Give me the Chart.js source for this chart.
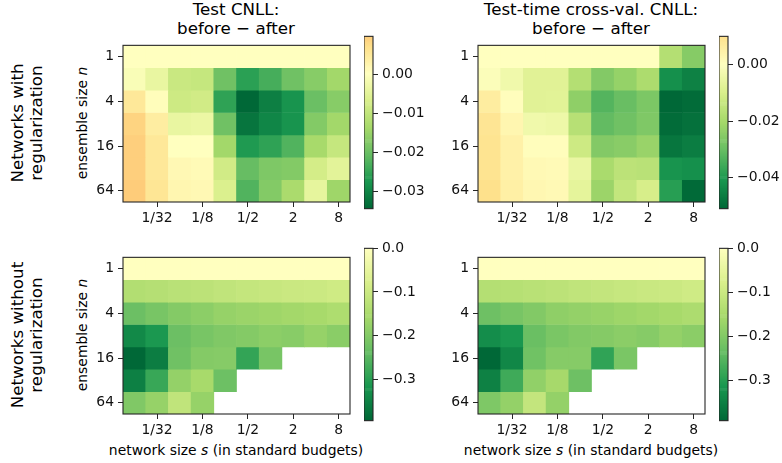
<!DOCTYPE html>
<html>
<head>
<meta charset="utf-8">
<script src="https://cdn.jsdelivr.net/npm/chart.js@4.4.1/dist/chart.umd.min.js"></script>
<style>
  html, body { margin: 0; padding: 0; background: #fff; }
  #fig { position: relative; width: 782px; height: 463px; overflow: hidden;
         font-family: 'DejaVu Sans', sans-serif; color: #000; }
  #fig canvas { position: absolute; }
  .title { position: absolute; font-size: 16.7px; line-height: 18.5px; text-align: center;
           white-space: nowrap; transform: translateX(-50%); }
  .rowlab { position: absolute; font-size: 16.7px; line-height: 19px; text-align: center;
            white-space: nowrap; transform: translate(-50%, -50%) rotate(-90deg); }
  .ylab { position: absolute; font-size: 13.9px; line-height: 16px; white-space: nowrap;
          transform: translate(-50%, -50%) rotate(-90deg); }
  .xlab { position: absolute; font-size: 13.9px; line-height: 16px; white-space: nowrap;
          transform: translateX(-50%); }
</style>
</head>
<body>
<div id="fig">
  <div class="title" style="left:236px;top:0px;">Test CNLL:<br>before &minus; after</div>
  <div class="title" style="left:591px;top:0px;">Test-time cross-val. CNLL:<br>before &minus; after</div>

  <div class="rowlab" style="left:27px;top:123px;">Networks with<br>regularization</div>
  <div class="rowlab" style="left:27px;top:334.5px;">Networks without<br>regularization</div>

  <div class="ylab" style="left:82px;top:123px;">ensemble size <i>n</i></div>
  <div class="ylab" style="left:82px;top:334.5px;">ensemble size <i>n</i></div>

  <div class="xlab" style="left:236px;top:442px;">network size <i>s</i> (in standard budgets)</div>
  <div class="xlab" style="left:591px;top:442px;">network size <i>s</i> (in standard budgets)</div>

  <canvas id="heatA" width="272" height="199" style="left:83px;top:33px;width:272px;height:199px;"></canvas>
  <canvas id="heatB" width="272" height="199" style="left:438px;top:33px;width:272px;height:199px;"></canvas>
  <canvas id="heatC" width="272" height="199" style="left:83px;top:245px;width:272px;height:199px;"></canvas>
  <canvas id="heatD" width="272" height="199" style="left:438px;top:245px;width:272px;height:199px;"></canvas>

  <canvas id="cbA" width="60" height="197" style="left:364px;top:24px;width:60px;height:197px;"></canvas>
  <canvas id="cbB" width="60" height="197" style="left:719px;top:24px;width:60px;height:197px;"></canvas>
  <canvas id="cbC" width="60" height="197" style="left:364px;top:236px;width:60px;height:197px;"></canvas>
  <canvas id="cbD" width="60" height="197" style="left:719px;top:236px;width:60px;height:197px;"></canvas>
</div>

<script>
// Axis categories
const networkSizes = ['1/64', '1/32', '1/16', '1/8', '1/4', '1/2', '1', '2', '4', '8'];
const ensembleSizes = ['1', '2', '4', '8', '16', '32', '64'];
const labelledNetworkSizes = ['1/32', '1/8', '1/2', '2', '8'];
const labelledEnsembleSizes = ['1', '4', '16', '64'];

// Colour-bar tick values
const cbarTicksTestReg = [0, -0.01, -0.02, -0.03];
const cbarTicksCvReg = [0, -0.02, -0.04];
const cbarTicksNoReg = [0, -0.1, -0.2, -0.3];

// CNLL differences (before - after), rows = ensemble size, cols = network size
const testCnllReg = [
  [0, 0, 0, 0, 0, 0, 0, 0, 0, 0],
  [-0.001, -0.004, -0.009, -0.0095, -0.0195, -0.026, -0.0235, -0.0195, -0.017, -0.014],
  [0.005, 0.0005, -0.0085, -0.008, -0.0255, -0.0343, -0.031, -0.028, -0.020, -0.017],
  [0.0085, 0.004, -0.004, -0.0035, -0.0195, -0.0325, -0.030, -0.028, -0.0175, -0.014],
  [0.0092, 0.005, 0.0, 0.0, -0.014, -0.027, -0.0255, -0.0225, -0.0135, -0.0095],
  [0.0092, 0.005, 0.0015, 0.001, -0.008, -0.0205, -0.018, -0.0175, -0.0075, -0.005],
  [0.0096, 0.0055, 0.002, 0.0015, -0.0065, -0.0225, -0.0175, -0.013, -0.0045, -0.0145]
];

const cvCnllReg = [
  [0, 0, 0, 0, 0, 0, 0, 0, -0.0175, -0.0255],
  [-0.001, -0.004, -0.008, -0.008, -0.0175, -0.026, -0.023, -0.019, -0.0425, -0.0455],
  [0.006, 0.0005, -0.008, -0.0078, -0.024, -0.033, -0.030, -0.027, -0.0509, -0.050],
  [0.0085, 0.003, -0.004, -0.0045, -0.017, -0.031, -0.029, -0.0265, -0.050, -0.049],
  [0.009, 0.0045, 0.0005, 0.0005, -0.0125, -0.026, -0.025, -0.0225, -0.048, -0.0465],
  [0.009, 0.0045, 0.002, 0.0015, -0.0055, -0.0195, -0.016, -0.0165, -0.0415, -0.0425],
  [0.0099, 0.005, 0.0025, 0.002, -0.007, -0.022, -0.0145, -0.0105, -0.039, -0.0505]
];

const testCnllNoReg = [
  [0, 0, 0, 0, 0, 0, 0, 0, 0, 0],
  [-0.14, -0.135, -0.128, -0.124, -0.118, -0.112, -0.107, -0.103, -0.100, -0.095],
  [-0.23, -0.215, -0.20, -0.19, -0.178, -0.172, -0.167, -0.16, -0.155, -0.145],
  [-0.34, -0.315, -0.23, -0.215, -0.205, -0.20, -0.19, -0.195, -0.178, -0.192],
  [-0.395, -0.36, -0.225, -0.20, -0.197, -0.29, -0.215, null, null, null],
  [-0.355, -0.285, -0.18, -0.155, -0.228, null, null, null, null, null],
  [-0.205, -0.178, -0.118, -0.178, null, null, null, null, null, null]
];

const cvCnllNoReg = [
  [0, 0, 0, 0, 0, 0, 0, 0, 0, 0],
  [-0.135, -0.132, -0.128, -0.123, -0.117, -0.112, -0.107, -0.103, -0.099, -0.093],
  [-0.225, -0.212, -0.20, -0.185, -0.178, -0.174, -0.166, -0.16, -0.153, -0.145],
  [-0.33, -0.315, -0.23, -0.21, -0.20, -0.197, -0.19, -0.195, -0.178, -0.19],
  [-0.391, -0.34, -0.222, -0.195, -0.195, -0.29, -0.21, null, null, null],
  [-0.35, -0.275, -0.182, -0.155, -0.225, null, null, null, null, null],
  [-0.205, -0.178, -0.112, -0.178, null, null, null, null, null, null]
];

// RdYlGn colour stops (red -> yellow -> green)
const RDYLGN = ['#a50026', '#d73027', '#f46d43', '#fdae61', '#fee08b', '#ffffbf',
                '#d9ef8b', '#a6d96a', '#66bd63', '#1a9850', '#006837'];
const rdylgnRgb = RDYLGN.map(h => [1, 3, 5].map(i => parseInt(h.substr(i, 2), 16)));

function rdylgn(p) {
  p = Math.min(1, Math.max(0, p));
  const x = p * (rdylgnRgb.length - 1);
  const i = Math.min(Math.floor(x), rdylgnRgb.length - 2);
  const f = x - i;
  const a = rdylgnRgb[i], b = rdylgnRgb[i + 1];
  const c = a.map((v, k) => Math.round(v + (b[k] - v) * f));
  return `rgb(${c[0]},${c[1]},${c[2]})`;
}

// Reversed map, symmetric about zero: negative -> green, positive -> orange
function colourFor(v, vabs) {
  return rdylgn(0.5 - 0.5 * v / vabs);
}

function rangeOf(values) {
  const flat = values.flat().filter(v => v !== null);
  const lo = Math.min(...flat), hi = Math.max(...flat);
  return { lo, hi, vabs: Math.max(Math.abs(lo), Math.abs(hi)) };
}

Chart.defaults.font.family = "'DejaVu Sans', sans-serif";
Chart.defaults.font.size = 13.9;
Chart.defaults.color = '#111';

const SPINE = '#262626';

const framePlugin = {
  id: 'frame',
  afterDatasetsDraw(chart) {
    const a = chart.chartArea, ctx = chart.ctx;
    ctx.save();
    ctx.strokeStyle = SPINE;
    ctx.lineWidth = 1.1;
    ctx.strokeRect(a.left, a.top, a.right - a.left, a.bottom - a.top);
    ctx.restore();
  }
};

function makeHeatmap(id, values) {
  const { vabs } = rangeOf(values);
  const datasets = values.map((row, r) => ({
    data: row.map(v => (v === null ? null : [r - 0.5, r + 0.5])),
    backgroundColor: row.map(v => (v === null ? 'rgba(0,0,0,0)' : colourFor(v, vabs))),
    borderWidth: 0,
    barPercentage: 1,
    categoryPercentage: 1,
    grouped: false
  }));
  new Chart(document.getElementById(id), {
    type: 'bar',
    data: { labels: networkSizes, datasets },
    options: {
      responsive: false,
      animation: false,
      devicePixelRatio: 1,
      layout: { padding: { top: 10, right: 5, left: 0, bottom: 0 } },
      plugins: { legend: { display: false }, tooltip: { enabled: false } },
      scales: {
        x: {
          type: 'category',
          offset: true,
          border: { display: false },
          grid: {
            offset: false,
            drawOnChartArea: false,
            tickLength: 5,
            tickWidth: 1,
            tickColor: c => labelledNetworkSizes.includes(networkSizes[c.index]) ? SPINE : 'rgba(0,0,0,0)'
          },
          ticks: {
            autoSkip: false,
            maxRotation: 0,
            padding: 3,
            callback: (v, i) => labelledNetworkSizes.includes(networkSizes[i]) ? networkSizes[i] : ''
          },
          afterFit: s => { s.height = 30; }
        },
        y: {
          type: 'linear',
          min: -0.5,
          max: ensembleSizes.length - 0.5,
          reverse: true,
          border: { display: false },
          grid: { drawOnChartArea: false, tickLength: 5, tickWidth: 1, tickColor: SPINE },
          ticks: { padding: 4, callback: v => ensembleSizes[v] },
          afterBuildTicks: s => {
            s.ticks = labelledEnsembleSizes.map(l => ({ value: ensembleSizes.indexOf(l) }));
          },
          afterFit: s => { s.width = 40; }
        }
      }
    },
    plugins: [framePlugin]
  });
}

function fmtTick(v, decimals) {
  const s = Math.abs(v).toFixed(decimals);
  return (v < -1e-12 ? '\u2212' : '') + s;
}

function makeColourbar(id, values, tickValues, decimals) {
  const { lo, hi, vabs } = rangeOf(values);
  const slices = 177;
  const step = (hi - lo) / slices;
  const datasets = [];
  for (let k = 0; k < slices; k++) {
    const a = lo + k * step, b = a + step;
    datasets.push({
      data: [[a, b]],
      backgroundColor: colourFor((a + b) / 2, vabs),
      borderWidth: 0,
      barPercentage: 1,
      categoryPercentage: 1,
      grouped: false
    });
  }
  new Chart(document.getElementById(id), {
    type: 'bar',
    data: { labels: [''], datasets },
    options: {
      responsive: false,
      animation: false,
      devicePixelRatio: 1,
      layout: { padding: { top: 10, right: 0, left: 0, bottom: 10 } },
      plugins: { legend: { display: false }, tooltip: { enabled: false } },
      scales: {
        x: { display: false },
        y: {
          type: 'linear',
          position: 'right',
          min: lo,
          max: hi,
          border: { display: false },
          grid: { drawOnChartArea: false, tickLength: 5, tickWidth: 1, tickColor: SPINE },
          ticks: { padding: 4, callback: v => fmtTick(v, decimals) },
          afterBuildTicks: s => { s.ticks = tickValues.map(v => ({ value: v })); },
          afterFit: s => { s.width = 51; }
        }
      }
    },
    plugins: [framePlugin]
  });
}

makeHeatmap('heatA', testCnllReg);
makeHeatmap('heatB', cvCnllReg);
makeHeatmap('heatC', testCnllNoReg);
makeHeatmap('heatD', cvCnllNoReg);

makeColourbar('cbA', testCnllReg, cbarTicksTestReg, 2);
makeColourbar('cbB', cvCnllReg, cbarTicksCvReg, 2);
makeColourbar('cbC', testCnllNoReg, cbarTicksNoReg, 1);
makeColourbar('cbD', cvCnllNoReg, cbarTicksNoReg, 1);
</script>
</body>
</html>
